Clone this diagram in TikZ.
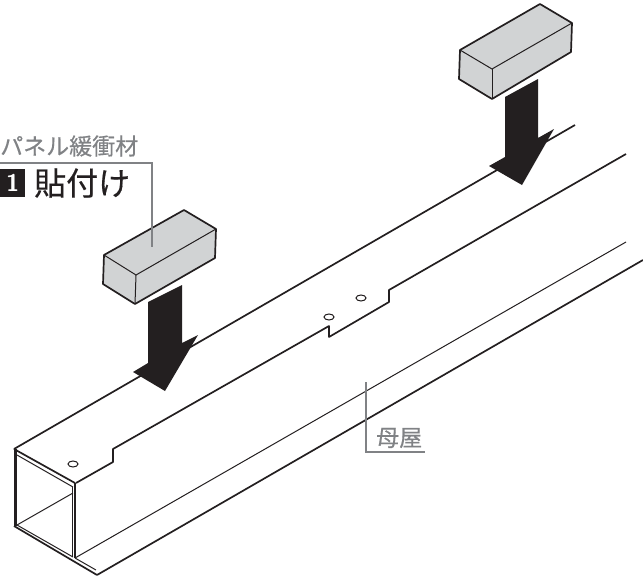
\documentclass[tikz,border=0pt]{standalone}
\usepackage{fontspec}
\usepackage{xcolor}
\newfontfamily\cjkfont[FakeBold=0.4]{Noto Sans CJK JP}
\definecolor{inkblack}{HTML}{231F20}
\definecolor{padgray}{HTML}{D1D3D4}
\definecolor{leadgray}{HTML}{808285}
\tikzset{
  heavy/.style={line width=1.7pt, color=inkblack, line join=round},
  light/.style={line width=1pt, color=inkblack},
  leader/.style={line width=1.3pt, color=leadgray},
  graylabel/.style={text=leadgray, inner sep=0pt, font=\cjkfont\fontsize{23}{23}\selectfont},
  titlelabel/.style={text=inkblack, inner sep=0pt, font=\cjkfont\fontsize{32}{32}\selectfont}
}
\begin{document}
\begin{tikzpicture}[x=1pt, y=-1pt]
        \useasboundingbox (0,0) rectangle (643,576);

        % Top edge of the beam
        \draw[heavy] (14,449) -- (575,125);

        % Flange edge with notches
        \draw[heavy] (76,483) -- (113,462) -- (113,449) -- (329,326) -- (329,337) -- (389,302) -- (389,290) -- (626,154);

        % Lower edges
        \draw[light] (75,558) -- (626,242);
        \draw[heavy] (97,575) -- (643,260);

        % Front opening
        \draw[heavy, line width=2.6pt] (15.5,449) -- (15.5,526);
        \draw[heavy] (14,449) -- (75,483);
        \draw[light] (17,455) -- (73,487);
        \draw[heavy] (75,483) -- (75,558);
        \draw[light] (72.8,487) -- (72.8,557);
        \draw[heavy] (14,526) -- (97,575);
        \draw[light] (17,525) -- (73,557);
        \draw[light] (75,558) -- (96,570);
        \draw[light] (17,525) -- (73,493);

        % Holes
        \draw[light] (73,464) ellipse (5 and 3);
        \draw[light] (329,317) ellipse (5 and 3);
        \draw[light] (361,298) ellipse (5 and 3);

        % Left pad
        \draw[heavy, fill=padgray] (104,255) -- (184,210) -- (216,229) -- (215,258) -- (135,304) -- (103,284) -- cycle;
        \draw[light] (104,255) -- (136,275) -- (216,229);
        \draw[light] (136,275) -- (135,304);

        % Right pad
        \draw[heavy, fill=padgray] (460,50) -- (540,4) -- (572,23) -- (571,52) -- (492,99) -- (459,79) -- cycle;
        \draw[light] (460,50) -- (492,69) -- (572,23);
        \draw[light] (492,69) -- (492,99);

        % Arrows
        \fill[inkblack] (148,302) -- (182,285) -- (182,343) -- (198,335) -- (165,391) -- (133,372) -- (148,363) -- cycle;
        \fill[inkblack] (505,97) -- (538,79) -- (538,138) -- (554,129) -- (522,185) -- (489,166) -- (505,157) -- cycle;

        % Labels
        \node[graylabel, anchor=west] (padlabel) at (0,146) {パネル緩衝材};
        \node[fill=inkblack, text=white, inner sep=0pt, minimum width=25pt, minimum height=28pt, anchor=west, font=\sffamily\bfseries\fontsize{24}{24}\selectfont] (stepmark) at (0,183) {1};
        \node[titlelabel, anchor=west] (steplabel) at (34,183) {貼付け};
        \node[graylabel, anchor=west] (beamlabel) at (376,438) {母屋};

        % Leader lines
        \coordinate (padstart) at (0,163);
        \coordinate (padbend) at (152,163);
        \coordinate (padend) at (152,247);
        \draw[leader] (padstart) -- (padbend) -- (padend);

        \coordinate (beamstart) at (366,382);
        \coordinate (beambend) at (366,452);
        \coordinate (beamend) at (425,452);
        \draw[leader] (beamstart) -- (beambend) -- (beamend);
\end{tikzpicture}
\end{document}
